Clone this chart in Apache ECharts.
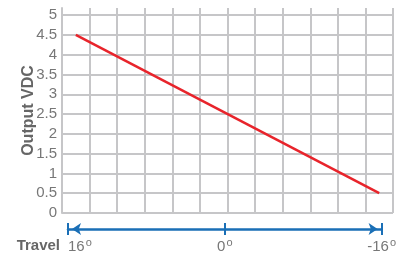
<!DOCTYPE html>
<html>
<head>
<meta charset="utf-8">
<script src="https://cdn.jsdelivr.net/npm/echarts@6/dist/echarts.min.js"></script>
<style>
html, body { margin: 0; padding: 0; background: #fff; }
#main { width: 399px; height: 254px; }
</style>
</head>
<body>
<div id="main"></div>
<script>
// data: position along travel (grid columns) and output voltage
var travelPos = [0.5, 11.5];
var outputVdc = [4.5, 0.5];
var travelTicks = [-16, 0, 16];

var myChart = echarts.init(document.getElementById('main'));

var lineData = [];
for (var i = 0; i < travelPos.length; i++) {
    lineData.push([travelPos[i], outputVdc[i]]);
}

var gridColor = '#c6c6c8';
var blue = '#1a6fb6';

var option = {
    animation: false,
    textStyle: { fontFamily: 'Liberation Sans, Arial, sans-serif' },
    grid: [
        { left: 62, right: 6, top: 8, bottom: 41 },
        { left: 68, right: 13, top: 223, height: 12 }
    ],
    xAxis: [
        {
            gridIndex: 0,
            type: 'value',
            min: 0,
            max: 12,
            interval: 1,
            axisLine: { show: false },
            axisTick: { show: false },
            axisLabel: { show: false },
            splitLine: { lineStyle: { color: gridColor, width: 2 } }
        },
        {
            gridIndex: 1,
            type: 'value',
            min: travelTicks[0],
            max: travelTicks[2],
            interval: 16,
            offset: -6,
            axisLine: {
                onZero: false,
                lineStyle: { color: blue, width: 2.5 },
                symbol: ['arrow', 'arrow'],
                symbolSize: [9, 9],
                symbolOffset: [4, -4]
            },
            axisTick: { show: false },
            splitLine: { show: true, lineStyle: { color: blue, width: 2 } },
            axisLabel: {
                margin: 8,
                color: '#777',
                fontSize: 15,
                alignMinLabel: 'left',
                formatter: function (v) {
                    return (v === 0 ? 0 : -v) + '{s|o}';
                },
                rich: {
                    s: { fontSize: 11, color: '#777', padding: [0, 0, 8, 1] }
                }
            }
        }
    ],
    yAxis: [
        {
            gridIndex: 0,
            type: 'value',
            min: 0,
            max: 5.18,
            interval: 0.5,
            name: 'Output VDC',
            nameLocation: 'middle',
            nameGap: 25,
            nameMoveOverlap: false,
            nameTextStyle: { color: '#666', fontSize: 16, fontWeight: 'bold', padding: [0, 0, 0, 0] },
            axisLine: { show: true, lineStyle: { color: gridColor, width: 2 } },
            axisTick: { show: false },
            axisLabel: { color: '#777', fontSize: 15, margin: 5, showMaxLabel: false },
            splitLine: { showMaxLine: false, lineStyle: { color: gridColor, width: 2 } }
        },
        {
            gridIndex: 1,
            type: 'value',
            show: false
        }
    ],
    graphic: [
        {
            type: 'text',
            right: 339,
            top: 238,
            style: { text: 'Travel', fill: '#666', fontSize: 15, fontWeight: 'bold', fontFamily: 'Liberation Sans, Arial, sans-serif' }
        }
    ],
    series: [
        {
            type: 'line',
            xAxisIndex: 0,
            yAxisIndex: 0,
            data: lineData,
            symbol: 'none',
            lineStyle: { color: '#e8242b', width: 2.5 }
        }
    ]
};

myChart.setOption(option);
</script>
</body>
</html>
